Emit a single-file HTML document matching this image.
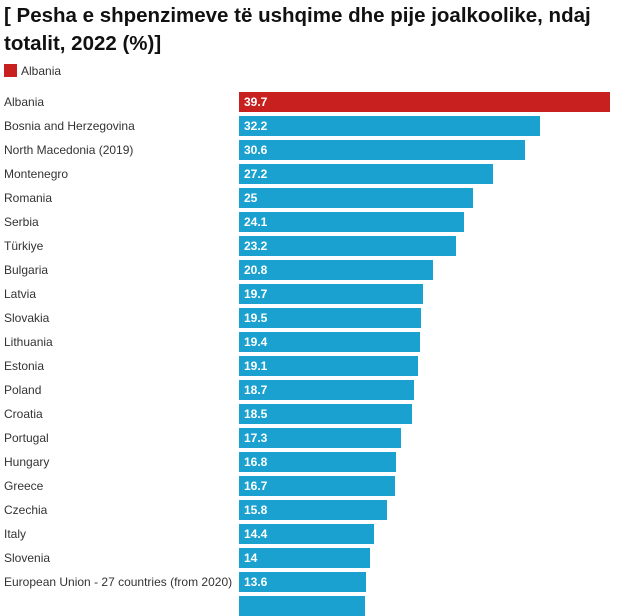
<!DOCTYPE html>
<html><head><meta charset="utf-8"><style>
body{margin:0;width:632px;height:597px;overflow:hidden;background:#fff;font-family:"Liberation Sans",sans-serif;position:relative}
.t{position:absolute;left:4px;top:2px;font-size:20.5px;font-weight:bold;color:#111;line-height:28px}
.lg{position:absolute;left:4px;top:64px;font-size:12px;color:#333}
.lg i{display:inline-block;width:13px;height:13px;background:#c8201f;vertical-align:-2px;margin-right:4px}
.r{position:absolute;left:0;width:632px;height:20px}
.l{position:absolute;left:4px;top:3px;font-size:12px;color:#333}
.b{position:absolute;left:239px;top:0;height:20px;background:#1ba1cf}
.v{position:absolute;left:244px;top:3px;font-size:12px;font-weight:bold;color:#fff}
</style></head><body>
<div class="t">[ Pesha e shpenzimeve të ushqime dhe pije joalkoolike, ndaj<br>totalit, 2022 (%)]</div>
<div class="lg"><i></i>Albania</div>
<div id="c"></div>
<script>
var d=[["Albania",39.7],["Bosnia and Herzegovina",32.2],["North Macedonia (2019)",30.6],["Montenegro",27.2],["Romania",25],["Serbia",24.1],["Türkiye",23.2],["Bulgaria",20.8],["Latvia",19.7],["Slovakia",19.5],["Lithuania",19.4],["Estonia",19.1],["Poland",18.7],["Croatia",18.5],["Portugal",17.3],["Hungary",16.8],["Greece",16.7],["Czechia",15.8],["Italy",14.4],["Slovenia",14],["European Union - 27 countries (from 2020)",13.6],["",13.5]];
var h="";d.forEach(function(x,i){h+='<div class="r" style="top:'+(92+24*i)+'px"><div class="l">'+x[0]+'</div><div class="b" style="width:'+(x[1]*9.345).toFixed(1)+'px;'+(i==0?'background:#c8201f':'')+'"></div><div class="v">'+(x[0]?x[1]:'')+'</div></div>';});
document.getElementById("c").innerHTML=h;
</script>
</body></html>
